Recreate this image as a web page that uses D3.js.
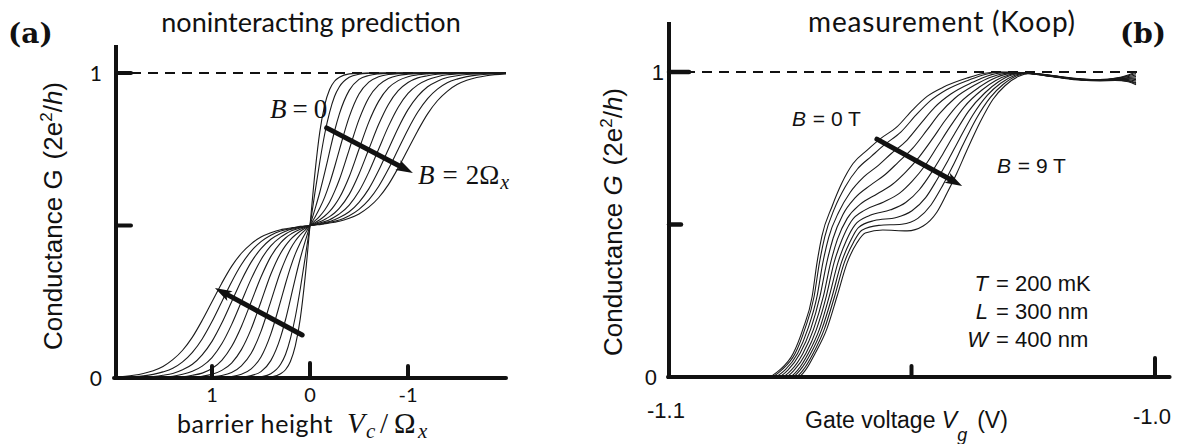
<!DOCTYPE html>
<html>
<head>
<meta charset="utf-8">
<script src="https://cdn.jsdelivr.net/npm/d3@7/dist/d3.min.js"></script>
<style>
  html, body { margin: 0; padding: 0; background: #fff; }
  svg { display: block; }
</style>
</head>
<body>
<svg id="chart" width="1187" height="444"></svg>
<script>
// ---------- Panel (a): noninteracting prediction ----------
// barrier height V_c / Omega_x (axis runs from +2 on the left to -2 on the right)
const barrierHeight = [2.0, 1.8, 1.7, 1.6, 1.5, 1.4, 1.3, 1.2, 1.1, 1.0, 0.9, 0.8, 0.7, 0.6, 0.5, 0.4, 0.3, 0.25, 0.2, 0.15, 0.1, 0.05,
  0, -0.05, -0.1, -0.15, -0.2, -0.25, -0.3, -0.4, -0.5, -0.6, -0.7, -0.8, -0.9, -1.0, -1.1, -1.2, -1.3, -1.4, -1.5, -1.6, -1.7, -1.8, -2.0];

// conductance (2e^2/h) for B = 0, 0.2, ... 2.0 Omega_x
const gA0 = [0, 0, 0, 0, 0, 0, 0, 0, 0, 0, 0, 0, 0, 0, 0.001, 0.003, 0.014, 0.027, 0.054, 0.105, 0.193, 0.329,
  0.5, 0.671, 0.807, 0.895, 0.946, 0.973, 0.986, 0.997, 0.999, 1, 1, 1, 1, 1, 1, 1, 1, 1, 1, 1, 1, 1, 1];
const gA1 = [0, 0, 0, 0, 0, 0, 0, 0, 0, 0, 0, 0, 0, 0.001, 0.004, 0.014, 0.045, 0.077, 0.129, 0.200, 0.291, 0.393,
  0.5, 0.607, 0.709, 0.800, 0.871, 0.923, 0.955, 0.986, 0.996, 0.999, 1, 1, 1, 1, 1, 1, 1, 1, 1, 1, 1, 1, 1];
const gA2 = [0, 0, 0, 0, 0, 0, 0, 0, 0, 0, 0, 0.001, 0.003, 0.008, 0.021, 0.057, 0.134, 0.191, 0.258, 0.327, 0.391, 0.447,
  0.5, 0.553, 0.609, 0.673, 0.742, 0.809, 0.866, 0.943, 0.979, 0.992, 0.997, 0.999, 1, 1, 1, 1, 1, 1, 1, 1, 1, 1, 1];
const gA3 = [0, 0, 0, 0, 0, 0, 0, 0, 0, 0.001, 0.002, 0.005, 0.012, 0.030, 0.069, 0.144, 0.252, 0.309, 0.362, 0.407, 0.443, 0.473,
  0.5, 0.527, 0.557, 0.593, 0.638, 0.691, 0.748, 0.856, 0.931, 0.970, 0.988, 0.995, 0.998, 0.999, 1, 1, 1, 1, 1, 1, 1, 1, 1];
const gA4 = [0, 0, 0, 0, 0, 0, 0, 0.001, 0.002, 0.004, 0.008, 0.018, 0.040, 0.081, 0.153, 0.251, 0.349, 0.389, 0.423, 0.449, 0.469, 0.485,
  0.5, 0.515, 0.531, 0.551, 0.577, 0.611, 0.651, 0.749, 0.847, 0.919, 0.960, 0.982, 0.992, 0.996, 0.998, 0.999, 1, 1, 1, 1, 1, 1, 1];
const gA5 = [0, 0, 0, 0, 0, 0.001, 0.001, 0.003, 0.006, 0.012, 0.025, 0.049, 0.093, 0.161, 0.25, 0.340, 0.409, 0.434, 0.454, 0.469, 0.481, 0.491,
  0.5, 0.509, 0.519, 0.531, 0.546, 0.566, 0.591, 0.660, 0.75, 0.839, 0.907, 0.951, 0.975, 0.988, 0.994, 0.997, 0.999, 0.999, 1, 1, 1, 1, 1];
const gA6 = [0, 0, 0, 0, 0.001, 0.002, 0.004, 0.009, 0.016, 0.031, 0.058, 0.103, 0.169, 0.25, 0.331, 0.398, 0.443, 0.459, 0.471, 0.480, 0.488, 0.494,
  0.5, 0.506, 0.512, 0.520, 0.529, 0.541, 0.557, 0.602, 0.669, 0.75, 0.831, 0.897, 0.942, 0.969, 0.984, 0.991, 0.996, 0.998, 0.999, 1, 1, 1, 1];
const gA7 = [0, 0, 0.001, 0.002, 0.003, 0.006, 0.012, 0.022, 0.039, 0.067, 0.112, 0.175, 0.25, 0.325, 0.388, 0.433, 0.462, 0.472, 0.481, 0.487, 0.492, 0.496,
  0.5, 0.504, 0.508, 0.513, 0.519, 0.528, 0.538, 0.567, 0.612, 0.675, 0.75, 0.825, 0.888, 0.933, 0.961, 0.978, 0.988, 0.994, 0.997, 0.998, 0.999, 1, 1];
const gA8 = [0, 0.002, 0.003, 0.005, 0.009, 0.015, 0.027, 0.045, 0.076, 0.120, 0.180, 0.25, 0.320, 0.380, 0.424, 0.455, 0.474, 0.481, 0.487, 0.490, 0.494, 0.497,
  0.5, 0.503, 0.506, 0.510, 0.513, 0.519, 0.526, 0.545, 0.576, 0.620, 0.680, 0.75, 0.820, 0.880, 0.924, 0.955, 0.973, 0.985, 0.991, 0.995, 0.997, 0.998, 1];
const gA9 = [0.001, 0.004, 0.007, 0.012, 0.020, 0.032, 0.053, 0.084, 0.128, 0.185, 0.25, 0.315, 0.372, 0.416, 0.447, 0.468, 0.482, 0.486, 0.489, 0.493, 0.495, 0.498,
  0.5, 0.502, 0.505, 0.507, 0.511, 0.514, 0.518, 0.532, 0.553, 0.584, 0.628, 0.685, 0.75, 0.815, 0.872, 0.916, 0.947, 0.968, 0.980, 0.988, 0.993, 0.996, 0.999];
const gA10 = [0.003, 0.009, 0.015, 0.024, 0.038, 0.060, 0.091, 0.134, 0.189, 0.25, 0.311, 0.366, 0.409, 0.440, 0.462, 0.476, 0.486, 0.489, 0.492, 0.494, 0.497, 0.498,
  0.5, 0.502, 0.503, 0.506, 0.508, 0.511, 0.514, 0.524, 0.538, 0.560, 0.591, 0.634, 0.689, 0.75, 0.811, 0.866, 0.909, 0.940, 0.962, 0.976, 0.985, 0.991, 0.997];
const conductanceA = [gA0, gA1, gA2, gA3, gA4, gA5, gA6, gA7, gA8, gA9, gA10];

const xTicksA = [1, 0, -1];
const xTickLabelsA = ["1", "0", "-1"];
const yTicksA = [0, 0.5, 1];
const yTickLabelsA = ["0", "", "1"];

// ---------- Panel (b): measurement (Koop), B = 0 ... 9 T ----------
const vgB0 = [-1.1, -1.0795, -1.0770, -1.0743, -1.0723, -1.0704, -1.0694, -1.0684, -1.0663, -1.0643, -1.0620, -1.0591, -1.0565, -1.0530, -1.0497, -1.0468, -1.0435, -1.0386, -1.0353, -1.0324, -1.0294, -1.0226, -1.0195, -1.0150, -1.0113, -1.0082, -1.0055, -1.0039];
const gB0 = [0, 0, 0.024, 0.077, 0.157, 0.264, 0.375, 0.462, 0.560, 0.636, 0.700, 0.744, 0.780, 0.820, 0.877, 0.920, 0.950, 0.980, 0.995, 1.000, 0.999, 0.991, 0.984, 0.976, 0.974, 0.978, 0.985, 0.990];
const vgB1 = [-1.1, -1.0790, -1.0766, -1.0739, -1.0719, -1.0700, -1.0689, -1.0678, -1.0658, -1.0636, -1.0611, -1.0582, -1.0556, -1.0522, -1.0490, -1.0461, -1.0429, -1.0382, -1.0349, -1.0321, -1.0291, -1.0226, -1.0195, -1.0150, -1.0113, -1.0082, -1.0055, -1.0039];
const gB1 = [0, 0, 0.024, 0.077, 0.157, 0.264, 0.375, 0.460, 0.553, 0.624, 0.682, 0.724, 0.761, 0.803, 0.860, 0.906, 0.941, 0.974, 0.992, 0.999, 0.999, 0.989, 0.982, 0.974, 0.972, 0.974, 0.972, 0.965];
const vgB2 = [-1.1, -1.0783, -1.0759, -1.0734, -1.0713, -1.0694, -1.0682, -1.0670, -1.0649, -1.0626, -1.0598, -1.0568, -1.0542, -1.0509, -1.0479, -1.0452, -1.0420, -1.0375, -1.0344, -1.0315, -1.0287, -1.0226, -1.0195, -1.0150, -1.0113, -1.0082, -1.0055, -1.0039];
const gB2 = [0, 0, 0.024, 0.077, 0.157, 0.264, 0.375, 0.458, 0.542, 0.605, 0.656, 0.694, 0.732, 0.777, 0.835, 0.885, 0.927, 0.966, 0.987, 0.997, 0.998, 0.992, 0.985, 0.977, 0.975, 0.979, 0.990, 1.000];
const vgB3 = [-1.1, -1.0775, -1.0753, -1.0729, -1.0707, -1.0688, -1.0674, -1.0661, -1.0641, -1.0616, -1.0584, -1.0554, -1.0528, -1.0497, -1.0468, -1.0442, -1.0411, -1.0369, -1.0339, -1.0310, -1.0282, -1.0226, -1.0195, -1.0150, -1.0113, -1.0082, -1.0055, -1.0039];
const gB3 = [0, 0, 0.024, 0.077, 0.157, 0.264, 0.375, 0.455, 0.532, 0.587, 0.629, 0.664, 0.703, 0.751, 0.810, 0.864, 0.914, 0.958, 0.982, 0.995, 0.998, 0.990, 0.982, 0.975, 0.972, 0.975, 0.978, 0.975];
const vgB4 = [-1.1, -1.0767, -1.0746, -1.0723, -1.0701, -1.0681, -1.0666, -1.0652, -1.0632, -1.0605, -1.0570, -1.0539, -1.0512, -1.0484, -1.0456, -1.0431, -1.0401, -1.0362, -1.0333, -1.0305, -1.0277, -1.0226, -1.0195, -1.0150, -1.0113, -1.0082, -1.0055, -1.0039];
const gB4 = [0, 0, 0.024, 0.077, 0.157, 0.264, 0.375, 0.452, 0.520, 0.567, 0.601, 0.632, 0.672, 0.722, 0.783, 0.841, 0.899, 0.949, 0.977, 0.993, 0.997, 0.988, 0.981, 0.973, 0.971, 0.972, 0.968, 0.958];
const vgB5 = [-1.1, -1.0760, -1.0740, -1.0717, -1.0695, -1.0675, -1.0659, -1.0643, -1.0624, -1.0595, -1.0557, -1.0525, -1.0498, -1.0471, -1.0446, -1.0421, -1.0392, -1.0356, -1.0327, -1.0299, -1.0273, -1.0226, -1.0195, -1.0150, -1.0113, -1.0082, -1.0055, -1.0039];
const gB5 = [0, 0, 0.024, 0.077, 0.157, 0.264, 0.375, 0.449, 0.510, 0.548, 0.574, 0.602, 0.643, 0.696, 0.758, 0.820, 0.885, 0.940, 0.972, 0.991, 0.997, 0.991, 0.984, 0.976, 0.974, 0.977, 0.982, 0.985];
const vgB6 = [-1.1, -1.0752, -1.0733, -1.0712, -1.0689, -1.0669, -1.0651, -1.0634, -1.0616, -1.0585, -1.0543, -1.0512, -1.0484, -1.0459, -1.0435, -1.0411, -1.0383, -1.0349, -1.0322, -1.0294, -1.0268, -1.0226, -1.0195, -1.0150, -1.0113, -1.0082, -1.0055, -1.0039];
const gB6 = [0, 0, 0.024, 0.077, 0.157, 0.264, 0.375, 0.447, 0.499, 0.530, 0.548, 0.572, 0.614, 0.670, 0.733, 0.799, 0.871, 0.932, 0.967, 0.990, 0.996, 0.989, 0.983, 0.974, 0.973, 0.975, 0.975, 0.970];
const vgB7 = [-1.1, -1.0745, -1.0728, -1.0707, -1.0684, -1.0663, -1.0644, -1.0626, -1.0609, -1.0576, -1.0531, -1.0499, -1.0471, -1.0448, -1.0425, -1.0402, -1.0374, -1.0344, -1.0317, -1.0290, -1.0264, -1.0226, -1.0195, -1.0150, -1.0113, -1.0082, -1.0055, -1.0039];
const gB7 = [0, 0, 0.024, 0.077, 0.157, 0.264, 0.375, 0.444, 0.490, 0.513, 0.523, 0.545, 0.588, 0.646, 0.710, 0.779, 0.859, 0.924, 0.963, 0.988, 0.996, 0.992, 0.984, 0.977, 0.975, 0.979, 0.988, 0.995];
const vgB8 = [-1.1, -1.0739, -1.0722, -1.0702, -1.0679, -1.0658, -1.0638, -1.0619, -1.0602, -1.0567, -1.0520, -1.0487, -1.0460, -1.0437, -1.0416, -1.0394, -1.0367, -1.0338, -1.0312, -1.0285, -1.0261, -1.0226, -1.0195, -1.0150, -1.0113, -1.0082, -1.0055, -1.0039];
const gB8 = [0, 0, 0.024, 0.077, 0.157, 0.264, 0.375, 0.442, 0.481, 0.497, 0.501, 0.520, 0.564, 0.625, 0.689, 0.762, 0.847, 0.917, 0.959, 0.987, 0.995, 0.989, 0.982, 0.975, 0.972, 0.973, 0.970, 0.962];
const vgB9 = [-1.1, -1.0733, -1.0717, -1.0698, -1.0674, -1.0653, -1.0632, -1.0612, -1.0595, -1.0559, -1.0509, -1.0476, -1.0448, -1.0427, -1.0407, -1.0386, -1.0359, -1.0333, -1.0308, -1.0281, -1.0257, -1.0226, -1.0195, -1.0150, -1.0113, -1.0082, -1.0055, -1.0039];
const gB9 = [0, 0, 0.024, 0.077, 0.157, 0.264, 0.375, 0.440, 0.472, 0.482, 0.479, 0.495, 0.540, 0.603, 0.668, 0.744, 0.836, 0.910, 0.955, 0.985, 0.995, 0.990, 0.983, 0.975, 0.973, 0.976, 0.980, 0.980];
const gateVoltages = [vgB0, vgB1, vgB2, vgB3, vgB4, vgB5, vgB6, vgB7, vgB8, vgB9];
const conductanceB = [gB0, gB1, gB2, gB3, gB4, gB5, gB6, gB7, gB8, gB9];

const xTicksB = [-1.1, -1.05, -1.0];
const xTickLabelsB = ["-1.1", "", "-1.0"];
const yTicksB = [0, 0.5, 1];
const yTickLabelsB = ["0", "", "1"];

// field-direction arrows, [start, end] in data units
const arrowsA = [[[-0.17, 0.82], [-1.05, 0.672]], [[0.08, 0.141], [0.97, 0.295]]];
const arrowsB = [[[-1.0571, 0.780], [-1.0396, 0.626]]];

// ---------- drawing ----------
const svg = d3.select("#chart");
const INK = "#111";
const SANS = "'Liberation Sans', Arial, sans-serif";
const CMSS = "Lato, 'Open Sans', sans-serif";
const SERIF = "'Liberation Serif', 'Times New Roman', serif";

const xA = d3.scaleLinear().domain([2, -2]).range([114, 506]);
const yA = d3.scaleLinear().domain([0, 1]).range([378, 73]);
const xB = d3.scaleLinear().domain([-1.1, -1.0]).range([668, 1155]);
const yB = d3.scaleLinear().domain([0, 1]).range([377, 72]);

function drawArrow(g, x, y, seg) {
  const [p0, p1] = seg;
  const x0 = x(p0[0]), y0 = y(p0[1]), x1 = x(p1[0]), y1 = y(p1[1]);
  const ang = Math.atan2(y1 - y0, x1 - x0);
  const head = 17, half = 5.5;
  const bx = x1 - head * Math.cos(ang), by = y1 - head * Math.sin(ang);
  g.append("line")
    .attr("x1", x0).attr("y1", y0)
    .attr("x2", bx + 3 * Math.cos(ang)).attr("y2", by + 3 * Math.sin(ang))
    .attr("stroke", INK).attr("stroke-width", 5).attr("stroke-linecap", "round");
  const nx = -Math.sin(ang), ny = Math.cos(ang);
  g.append("path")
    .attr("d", `M${x1},${y1} L${bx + half * nx},${by + half * ny} L${bx + 4 * Math.cos(ang)},${by + 4 * Math.sin(ang)} L${bx - half * nx},${by - half * ny} Z`)
    .attr("fill", INK);
}

// ----- panel (a) -----
const gA = svg.append("g");
// reference line at G = 1
gA.append("line")
  .attr("x1", xA(2)).attr("x2", xA(-2))
  .attr("y1", yA(1)).attr("y2", yA(1))
  .attr("stroke", INK).attr("stroke-width", 2).attr("stroke-dasharray", "10,7");

const lineA = d3.line()
  .x((d, i) => xA(barrierHeight[i]))
  .y(d => yA(d))
  .curve(d3.curveMonotoneX);
gA.selectAll("path.curveA").data(conductanceA).join("path")
  .attr("class", "curveA")
  .attr("d", d => lineA(d))
  .attr("fill", "none").attr("stroke", "#1a1a1a").attr("stroke-width", 1.1);

// axes
gA.append("line").attr("x1", xA(2) + 2).attr("x2", xA(2) + 2).attr("y1", 45).attr("y2", yA(0) + 2)
  .attr("stroke", INK).attr("stroke-width", 4);
gA.append("line").attr("x1", xA(2)).attr("x2", xA(-2)).attr("y1", yA(0)).attr("y2", yA(0))
  .attr("stroke", INK).attr("stroke-width", 4).attr("stroke-linecap", "round");
gA.selectAll("line.ytA").data(yTicksA.filter(v => v > 0)).join("line")
  .attr("class", "ytA")
  .attr("x1", xA(2) + 2).attr("x2", xA(2) + 17)
  .attr("y1", d => yA(d)).attr("y2", d => yA(d))
  .attr("stroke", INK).attr("stroke-width", 4).attr("stroke-linecap", "round");
gA.selectAll("line.xtA").data(xTicksA).join("line")
  .attr("class", "xtA")
  .attr("x1", d => xA(d)).attr("x2", d => xA(d))
  .attr("y1", yA(0)).attr("y2", (d, i) => yA(0) - (i === 1 ? 15 : 12))
  .attr("stroke", INK).attr("stroke-width", 4).attr("stroke-linecap", "round");
gA.selectAll("text.xlA").data(xTicksA).join("text")
  .attr("class", "xlA")
  .attr("x", d => xA(d)).attr("y", 402)
  .attr("text-anchor", "middle")
  .style("font-family", CMSS).style("font-size", "20px").attr("fill", INK)
  .text((d, i) => xTickLabelsA[i]);
gA.selectAll("text.ylA").data(yTicksA).join("text")
  .attr("class", "ylA")
  .attr("x", 102).attr("y", d => yA(d) + 8)
  .attr("text-anchor", "end")
  .style("font-family", CMSS).style("font-size", "21px").attr("fill", INK)
  .text((d, i) => yTickLabelsA[i]);

// labels
gA.append("text").attr("x", 311).attr("y", 32).attr("text-anchor", "middle")
  .style("font-family", CMSS).style("font-size", "27px").attr("fill", INK)
  .text("noninteracting prediction");
gA.append("text").attr("x", 8).attr("y", 43)
  .style("font-family", "'DejaVu Serif', serif").style("font-weight", "bold").style("font-size", "28px").attr("fill", INK)
  .text("(a)");

const ylabA = gA.append("text").attr("transform", "translate(62,216) rotate(-90)")
  .attr("text-anchor", "middle")
  .style("font-family", SANS).style("font-size", "26px").attr("fill", INK);
ylabA.append("tspan").text("Conductance G");
ylabA.append("tspan").attr("dx", 10).text("(2e");
ylabA.append("tspan").attr("dy", -10).style("font-size", "17px").text("2");
ylabA.append("tspan").attr("dy", 10).text("/");
ylabA.append("tspan").style("font-style", "italic").text("h");
ylabA.append("tspan").text(")");

// x-axis title: "barrier height  V_c / Omega_x"
gA.append("text").attr("x", 177).attr("y", 433)
  .style("font-family", CMSS).style("font-size", "25px").style("letter-spacing", "0.6px").attr("fill", INK)
  .text("barrier height");
const mathA = [
  { t: "V", x: 347, dy: 0, size: 29, italic: true },
  { t: "c", x: 366, dy: 5, size: 21, italic: true },
  { t: "/", x: 380, dy: 0, size: 29, italic: false },
  { t: "Ω", x: 394, dy: 0, size: 29, italic: false },
  { t: "x", x: 418, dy: 5, size: 21, italic: true }
];
mathA.forEach(m => {
  gA.append("text").attr("x", m.x).attr("y", 433 + m.dy)
    .style("font-family", SERIF).style("font-size", m.size + "px")
    .style("font-style", m.italic ? "italic" : "normal").attr("fill", INK)
    .text(m.t);
});

const b0 = gA.append("text").attr("x", 270).attr("y", 118).style("font-family", SERIF).style("font-size", "27px").attr("fill", INK);
b0.append("tspan").style("font-style", "italic").text("B");
b0.append("tspan").attr("dx", 6).text("=");
b0.append("tspan").attr("dx", 6).text("0");
const b2 = gA.append("text").attr("x", 418).attr("y", 184).style("font-family", SERIF).style("font-size", "27px").attr("fill", INK);
b2.append("tspan").style("font-style", "italic").text("B");
b2.append("tspan").attr("dx", 8).text("=");
b2.append("tspan").attr("dx", 8).text("2Ω");
b2.append("tspan").attr("dy", 5).attr("dx", 1).style("font-style", "italic").style("font-size", "20px").text("x");

arrowsA.forEach(a => drawArrow(gA, xA, yA, a));

// ----- panel (b) -----
const gB = svg.append("g");
gB.append("line")
  .attr("x1", xB(-1.1)).attr("x2", xB(-1.0025))
  .attr("y1", yB(1)).attr("y2", yB(1))
  .attr("stroke", INK).attr("stroke-width", 2).attr("stroke-dasharray", "10,7");

const lineB = d3.line().x(d => xB(d[0])).y(d => yB(d[1])).curve(d3.curveMonotoneX);
gB.selectAll("path.curveB").data(conductanceB.map((g, k) => g.map((v, i) => [gateVoltages[k][i], v]))).join("path")
  .attr("class", "curveB")
  .attr("d", d => lineB(d))
  .attr("fill", "none").attr("stroke", "#1a1a1a").attr("stroke-width", 1.1);

gB.append("line").attr("x1", xB(-1.1) + 1).attr("x2", xB(-1.1) + 1).attr("y1", 22).attr("y2", yB(0) + 2)
  .attr("stroke", INK).attr("stroke-width", 4);
gB.append("line").attr("x1", xB(-1.1)).attr("x2", xB(-0.997)).attr("y1", yB(0)).attr("y2", yB(0))
  .attr("stroke", INK).attr("stroke-width", 4).attr("stroke-linecap", "round");
gB.selectAll("line.ytB").data(yTicksB.filter(v => v > 0)).join("line")
  .attr("class", "ytB")
  .attr("x1", xB(-1.1) + 1).attr("x2", d => xB(-1.1) + (d === 1 ? 21 : 13))
  .attr("y1", d => yB(d)).attr("y2", d => yB(d))
  .attr("stroke", INK).attr("stroke-width", 4.5).attr("stroke-linecap", "round");
gB.selectAll("line.xtB").data(xTicksB.filter(v => v > -1.1)).join("line")
  .attr("class", "xtB")
  .attr("x1", d => xB(d)).attr("x2", d => xB(d))
  .attr("y1", yB(0)).attr("y2", d => yB(0) - (d > -1.01 ? 19 : 11))
  .attr("stroke", INK).attr("stroke-width", 4).attr("stroke-linecap", "round");
gB.selectAll("text.xlB").data(xTicksB).join("text")
  .attr("class", "xlB")
  .attr("x", d => xB(d) - (d > -1.01 ? 3 : 2)).attr("y", d => d > -1.01 ? 424 : 418)
  .attr("text-anchor", "middle")
  .style("font-family", SANS).style("font-size", "22px").attr("fill", INK)
  .text((d, i) => xTickLabelsB[i]);
gB.selectAll("text.ylB").data(yTicksB).join("text")
  .attr("class", "ylB")
  .attr("x", d => d === 1 ? 664 : 657).attr("y", d => yB(d) + 8)
  .attr("text-anchor", "end")
  .style("font-family", SANS).style("font-size", "22px").attr("fill", INK)
  .text((d, i) => yTickLabelsB[i]);

gB.append("text").attr("x", 942).attr("y", 32).attr("text-anchor", "middle")
  .style("font-family", CMSS).style("font-size", "28px").style("letter-spacing", "0.8px").attr("fill", INK)
  .text("measurement (Koop)");
gB.append("text").attr("x", 1120).attr("y", 43)
  .style("font-family", "'DejaVu Serif', serif").style("font-weight", "bold").style("font-size", "28px").attr("fill", INK)
  .text("(b)");

const ylabB = gB.append("text").attr("transform", "translate(622,222) rotate(-90)")
  .attr("text-anchor", "middle")
  .style("font-family", SANS).style("font-size", "26px").attr("fill", INK);
ylabB.append("tspan").text("Conductance ");
ylabB.append("tspan").style("font-style", "italic").text("G");
ylabB.append("tspan").attr("dx", 10).text("(2e");
ylabB.append("tspan").attr("dy", -10).style("font-size", "17px").text("2");
ylabB.append("tspan").attr("dy", 10).text("/");
ylabB.append("tspan").style("font-style", "italic").text("h");
ylabB.append("tspan").text(")");

const xlabB = gB.append("text").attr("x", 805).attr("y", 428)
  .style("font-family", SANS).style("font-size", "23px").attr("fill", INK);
xlabB.append("tspan").text("Gate voltage ");
xlabB.append("tspan").style("font-style", "italic").text("V");
xlabB.append("tspan").attr("dy", 13).style("font-style", "italic").style("font-size", "18px").text("g");
xlabB.append("tspan").attr("dy", -13).attr("dx", 10).text("(V)");

function fieldLabel(x, y, value) {
  const t = gB.append("text").attr("x", x).attr("y", y)
    .style("font-family", SANS).style("font-size", "21px").attr("fill", INK);
  t.append("tspan").style("font-style", "italic").text("B");
  t.append("tspan").attr("dx", 1).text(" = " + value + " T");
}
fieldLabel(792, 126, "0");
fieldLabel(997, 173, "9");

const params = [["T", "200 mK", 291], ["L", "300 nm", 319], ["W", "400 nm", 347]];
params.forEach(([sym, val, y]) => {
  gB.append("text").attr("x", 988).attr("y", y).attr("text-anchor", "end")
    .style("font-family", SANS).style("font-style", "italic").style("font-size", "22px").attr("fill", INK)
    .text(sym);
  gB.append("text").attr("x", 996).attr("y", y)
    .style("font-family", SANS).style("font-size", "22px").attr("fill", INK)
    .text("= " + val);
});

arrowsB.forEach(a => drawArrow(gB, xB, yB, a));
</script>
</body>
</html>
